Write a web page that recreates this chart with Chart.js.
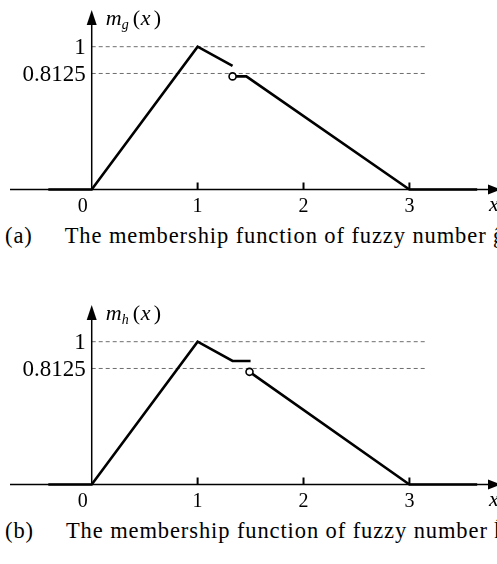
<!DOCTYPE html>
<html lang="en">
<head>
    <meta charset="UTF-8">
    <title>Membership functions of fuzzy numbers</title>
    <script src="https://cdn.jsdelivr.net/npm/chart.js"></script>
    <style>
        html, body {
            margin: 0;
            background: white;
            width: 497px;
            height: 564px;
            overflow: hidden;
        }
        body {
            position: relative;
            font-family: "Liberation Serif", "Times New Roman", serif;
            color: black;
        }
        canvas {
            position: absolute;
            left: 0;
        }
        .caption {
            position: absolute;
            left: 5px;
            font-size: 22.5px;
            letter-spacing: 0.9px;
            line-height: 24px;
            white-space: nowrap;
        }
        .caption .txt {
            margin-left: 32px;
        }
    </style>
</head>
<body>
    <canvas id="chartG" width="497" height="220" style="top:0px"></canvas>
    <div class="caption" style="top:224px"><span>(a)</span><span class="txt">The membership function of fuzzy number ĝ</span></div>

    <canvas id="chartH" width="497" height="220" style="top:295px"></canvas>
    <div class="caption" style="top:519px"><span>(b)</span><span class="txt">The membership function of fuzzy number ĥ</span></div>

    <script>
        // tick values and reference levels
        const xTicks = [0, 1, 2, 3];
        const yTicks = [1, 0.8125];
        const yTickLabels = ['1', '0.8125'];
        const refLineEnd = 3.17;

        // fuzzy number g: two pieces (jump after x = 1.33)
        const gPiece1X = [-0.41, 0, 1, 1.33];
        const gPiece1Y = [0, 0, 1, 0.865];
        const gPiece2X = [1.33, 1.46, 3, 3.64];
        const gPiece2Y = [0.792, 0.792, 0, 0];

        // fuzzy number h: two pieces (jump after x = 1.5)
        const hPiece1X = [-0.41, 0, 1, 1.33, 1.5];
        const hPiece1Y = [0, 0, 1, 0.865, 0.865];
        const hPiece2X = [1.49, 3, 3.64];
        const hPiece2Y = [0.789, 0, 0];

        const serif = '"Liberation Serif", "Times New Roman", serif';

        function toPoints(xs, ys) {
            return xs.map((x, i) => ({ x: x, y: ys[i] }));
        }

        // draws the arrowed axes, tick marks and labels on the scales
        const axesPlugin = {
            id: 'axesPlugin',
            afterDatasetsDraw(chart, args, opts) {
                const ctx = chart.ctx;
                const xs = chart.scales.x;
                const ys = chart.scales.y;
                const x0 = xs.getPixelForValue(0);
                const y0 = ys.getPixelForValue(0);
                ctx.save();
                ctx.strokeStyle = 'black';
                ctx.fillStyle = 'black';
                ctx.lineWidth = 1.5;

                // x axis
                ctx.beginPath();
                ctx.moveTo(10, y0);
                ctx.lineTo(490, y0);
                ctx.stroke();
                ctx.beginPath();
                ctx.moveTo(501, y0);
                ctx.lineTo(488, y0 - 5);
                ctx.lineTo(488, y0 + 5);
                ctx.closePath();
                ctx.fill();

                // y axis
                ctx.beginPath();
                ctx.moveTo(x0, y0);
                ctx.lineTo(x0, 22);
                ctx.stroke();
                ctx.beginPath();
                ctx.moveTo(x0, 10);
                ctx.lineTo(x0 - 5, 25);
                ctx.lineTo(x0 + 5, 25);
                ctx.closePath();
                ctx.fill();

                // x ticks + labels
                ctx.lineWidth = 2;
                ctx.font = '20px ' + serif;
                ctx.textAlign = 'center';
                ctx.textBaseline = 'middle';
                xTicks.forEach(v => {
                    const px = xs.getPixelForValue(v);
                    if (v !== 0) {
                        ctx.beginPath();
                        ctx.moveTo(px, y0);
                        ctx.lineTo(px, y0 - 7);
                        ctx.stroke();
                        ctx.fillText(String(v), px, y0 + 17);
                    } else {
                        ctx.fillText(String(v), px - 9, y0 + 17);
                    }
                });

                // y tick labels
                ctx.font = '23px ' + serif;
                ctx.textAlign = 'right';
                yTicks.forEach((v, i) => {
                    ctx.fillText(yTickLabels[i], x0 - 6, ys.getPixelForValue(v) + 1);
                });

                // axis titles
                ctx.textAlign = 'left';
                ctx.textBaseline = 'alphabetic';
                ctx.font = 'italic 22px ' + serif;
                ctx.fillText('m', x0 + 14, 25);
                ctx.font = 'italic 14px ' + serif;
                ctx.fillText(opts.sub, x0 + 30, 29);
                ctx.font = '22px ' + serif;
                ctx.fillText('(', x0 + 41, 25);
                ctx.font = 'italic 22px ' + serif;
                ctx.fillText('x', x0 + 49, 25);
                ctx.font = '22px ' + serif;
                ctx.fillText(')', x0 + 62, 25);

                ctx.font = 'italic 22px ' + serif;
                ctx.fillText('x', 489, y0 + 22);
                ctx.restore();
            }
        };

        function makeChart(id, p1x, p1y, p2x, p2y, sub) {
            const refSets = yTicks.map(v => ({
                data: toPoints([0, refLineEnd], [v, v]),
                showLine: true,
                borderColor: '#6e6e6e',
                borderWidth: 1,
                borderDash: [4, 3],
                pointRadius: 0,
                order: 3
            }));
            new Chart(document.getElementById(id), {
                type: 'scatter',
                data: {
                    datasets: [
                        {
                            data: toPoints(p1x, p1y),
                            showLine: true,
                            borderColor: 'black',
                            borderWidth: 2.6,
                            pointRadius: 0,
                            order: 1
                        },
                        {
                            data: toPoints(p2x, p2y),
                            showLine: true,
                            borderColor: 'black',
                            borderWidth: 2.6,
                            pointRadius: p2x.map((v, i) => i === 0 ? 3.5 : 0),
                            pointBackgroundColor: 'white',
                            pointBorderColor: 'black',
                            pointBorderWidth: 1.6,
                            order: 0
                        },
                        ...refSets
                    ]
                },
                options: {
                    responsive: false,
                    animation: false,
                    layout: { padding: 0, autoPadding: false },
                    plugins: {
                        legend: { display: false },
                        tooltip: { enabled: false },
                        axesPlugin: { sub: sub }
                    },
                    scales: {
                        x: { type: 'linear', min: -0.866, max: 3.827, display: false },
                        y: { type: 'linear', min: -0.2136, max: 1.327, display: false }
                    }
                },
                plugins: [axesPlugin]
            });
        }

        makeChart('chartG', gPiece1X, gPiece1Y, gPiece2X, gPiece2Y, 'g');
        makeChart('chartH', hPiece1X, hPiece1Y, hPiece2X, hPiece2Y, 'h');
    </script>
</body>
</html>
